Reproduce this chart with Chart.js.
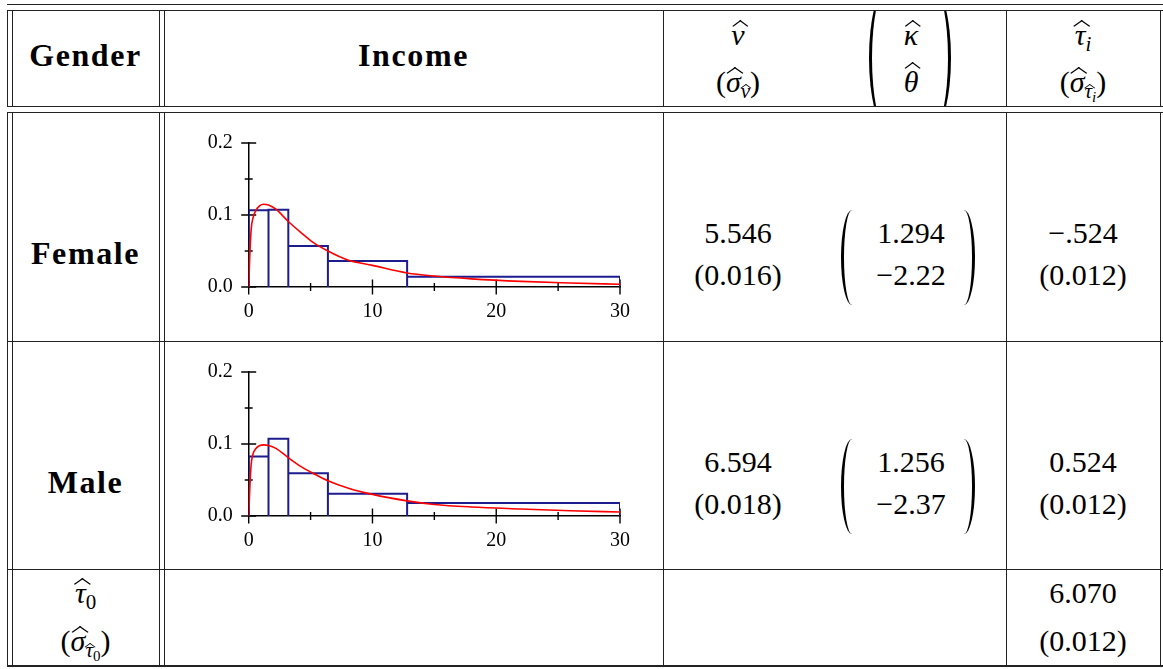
<!DOCTYPE html>
<html>
<head>
<meta charset="utf-8">
<title>Income by gender</title>
<script src="https://cdn.jsdelivr.net/npm/chart.js@4.4.1/dist/chart.umd.min.js"></script>
<style>
html, body { margin: 0; padding: 0; background: #fff; }
#page { position: relative; width: 1163px; height: 669px; overflow: hidden; background: #fff; color: #000; }
.hl { position: absolute; height: 1px; background: #222; }
.vl { position: absolute; width: 1px; background: #222; }
.t { position: absolute; font-size: 30px; line-height: 30px; white-space: nowrap; transform: translateX(-50%); }
.b { font-weight: bold; font-size: 32px; letter-spacing: 1.6px; }
.hw { position: relative; display: inline-block; }
.hc { position: absolute; box-sizing: border-box; border-top: 1.3px solid #000; border-left: 1.3px solid #000; }
sub { font-size: 21px; line-height: 21px; vertical-align: -6px; }
sub sub { font-size: 15px; line-height: 15px; vertical-align: -4px; }
.pl { position: absolute; box-sizing: border-box; border-left: 3px solid #000; }
.pr { position: absolute; box-sizing: border-box; border-right: 3px solid #000; }
.clip { position: absolute; overflow: hidden; }
canvas { position: absolute; }
</style>
</head>
<body>
<div id="page" style="font-family:'Liberation Serif', serif;">
  <canvas id="femaleChart" width="490" height="205" style="left:170px;top:125px;"></canvas>
  <canvas id="maleChart" width="490" height="205" style="left:170px;top:354px;"></canvas>
</div>
<script>
// ---- histogram bins (income, shared by both groups) ----
const binEdges = [0, 1.6, 3.2, 6.4, 12.8, 30];
const femaleDensity = [0.1065, 0.1074, 0.057, 0.036, 0.0144];
const maleDensity = [0.0825, 0.1074, 0.0594, 0.0309, 0.018];

// ---- fitted density curves ----
const femaleFitX = [0, 0.08, 0.2, 0.35, 0.6, 0.9, 1.2, 1.6, 2.2, 3.2, 4.2, 5.2, 6.4, 8, 10, 12.8, 15, 18, 22, 26, 30];
const femaleFitY = [0, 0.04, 0.08, 0.096, 0.107, 0.113, 0.115, 0.114, 0.108, 0.091, 0.076, 0.062, 0.05, 0.0375, 0.03, 0.0195, 0.0152, 0.0113, 0.0078, 0.0056, 0.0038];
const maleFitX = [0, 0.08, 0.2, 0.35, 0.6, 0.9, 1.2, 1.6, 2.2, 3.2, 4.2, 5.2, 6.4, 8, 10, 12.8, 15, 18, 22, 26, 30];
const maleFitY = [0, 0.035, 0.072, 0.086, 0.094, 0.098, 0.0988, 0.098, 0.094, 0.081, 0.069, 0.0594, 0.049, 0.039, 0.030, 0.021, 0.016, 0.0125, 0.0097, 0.0072, 0.0055];

// ---- axis ticks ----
const xTickMajor = [0, 10, 20, 30];
const xTickMinor = [5, 15, 25];
const yTickMajor = [0, 0.1, 0.2];
const yTickMinor = [0.05, 0.15];

// ---- table entries ----
const genders = ['Female', 'Male'];
const nuHat = ['5.546', '6.594'];
const nuSE = ['0.016', '0.018'];
const kappaHat = ['1.294', '1.256'];
const thetaHat = ['\u22122.22', '\u22122.37'];
const tauHat = ['\u2212.524', '0.524'];
const tauSE = ['0.012', '0.012'];
const tau0Hat = '6.070';
const tau0SE = '0.012';

const SERIF = "'Liberation Serif', serif";
const page = document.getElementById('page');

// ---------- table rules ----------
function hline(y, x1, x2, w) {
  const d = document.createElement('div');
  d.className = 'hl';
  d.style.cssText = `top:${y}px;left:${x1}px;width:${x2 - x1}px;` + (w ? `height:${w}px;` : '');
  page.appendChild(d);
}
function vline(x, y1, y2) {
  const d = document.createElement('div');
  d.className = 'vl';
  d.style.cssText = `left:${x}px;top:${y1}px;height:${y2 - y1}px;`;
  page.appendChild(d);
}
[4, 10, 106, 112, 341, 569].forEach(y => hline(y, 7, 1163));
hline(665, 7, 1163, 2);
[7, 12, 159, 164, 663, 1006, 1160].forEach(x => { vline(x, 10, 107); vline(x, 112, 666); });

// ---------- text ----------
// wide hat: a rotated corner squeezed to the given width w and height h
function hat(inner, w, h, top, shift) {
  const s = 8, diag = s * Math.SQRT2;
  const sx = w / diag, sy = h / (diag / 2);
  const bw = h > 4 ? 1.3 : 1.0;
  return `<span class="hw">${inner}<span class="hc" style="width:${s}px;height:${s}px;` +
    `border-top-width:${bw}px;border-left-width:${bw}px;` +
    `top:${top + h - s / 2}px;left:calc(50% - ${s / 2}px + ${shift || 0}px);` +
    `transform:scale(${sx.toFixed(3)},${sy.toFixed(3)}) rotate(45deg);"></span></span>`;
}
function setSerif(el) { el.style.setProperty('font-family', SERIF, 'important'); }
function place(html, cx, baseline, cls) {
  const d = document.createElement('div');
  d.className = 't' + (cls ? ' ' + cls : '');
  d.style.left = cx + 'px';
  d.style.top = (baseline - (cls === 'b' ? 27 : 25)) + 'px';
  d.innerHTML = html;
  setSerif(d);
  d.querySelectorAll('i, b, sub, span').forEach(setSerif);
  page.appendChild(d);
}

const colGender = 85.5, colIncome = 413.5, colNu = 738, colMat = 911, colTau = 1083;

// header
place('Gender', colGender, 67, 'b');
place('Income', colIncome, 67, 'b');
place(hat('<i>ν</i>', 16, 6, 0, 2), colNu, 45);
place('(' + hat('<i>σ</i>', 17, 6, 0, 2) + '<sub>' + hat('<i>ν</i>', 11, 4, 3, 1) + '</sub>)', colNu, 92);
place(hat('<i>κ</i>', 16, 6, 0, 2), colMat, 45);
place(hat('<i>θ</i>', 16, 6, -5, 2), colMat, 92);
place(hat('<i>τ</i>', 17, 6, 0, 2) + '<sub><i>i</i></sub>', colTau, 45);
place('(' + hat('<i>σ</i>', 17, 6, 0, 2) + '<sub>' + hat('<i>τ</i>', 11, 4, 3, 1) + '<sub><i>i</i></sub></sub>)', colTau, 92);

// group rows
genders.forEach((g, i) => {
  const off = i * 229;
  place(g, colGender, 265 + off, 'b');
  place(nuHat[i], colNu, 243 + off);
  place('(' + nuSE[i] + ')', colNu, 285 + off);
  place(kappaHat[i], colMat, 243 + off);
  place(thetaHat[i], colMat, 285 + off);
  place(tauHat[i], colTau, 243 + off);
  place('(' + tauSE[i] + ')', colTau, 285 + off);
});

// intercept row
place(hat('<i>τ</i>', 17, 6, 0, 2) + '<sub>0</sub>', colGender, 603);
place('(' + hat('<i>σ</i>', 17, 6, 0, 2) + '<sub>' + hat('<i>τ</i>', 11, 4, 3, 1) + '<sub>0</sub></sub>)', colGender, 651);
place(tau0Hat, colTau, 603);
place('(' + tau0SE + ')', colTau, 651);

// ---------- big parentheses (curved borders) ----------
function paren(x, y, w, h, right, parent) {
  const d = document.createElement('div');
  d.className = right ? 'pr' : 'pl';
  const radius = right ? '0 100% 100% 0 / 0 50% 50% 0' : '100% 0 0 100% / 50% 0 0 50%';
  d.style.cssText = `left:${x}px;top:${y}px;width:${w}px;height:${h}px;border-radius:${radius};`;
  (parent || page).appendChild(d);
}
// header matrix brackets, cut by the rules
const clip = document.createElement('div');
clip.className = 'clip';
clip.style.cssText = 'left:860px;top:11px;width:100px;height:95px;';
page.appendChild(clip);
paren(869 - 860, -14 - 11, 19, 144, false, clip);
paren(932 - 860, -14 - 11, 19, 144, true, clip);
// estimate matrices
[0, 229].forEach(off => {
  paren(841, 210 + off, 11, 95, false);
  paren(964, 210 + off, 11, 95, true);
});

// ---------- histograms ----------
function outline(edges, dens) {
  const pts = [];
  dens.forEach((d, i) => {
    pts.push({ x: edges[i], y: 0 }, { x: edges[i], y: d }, { x: edges[i + 1], y: d }, { x: edges[i + 1], y: 0 });
  });
  return pts;
}
function zipXY(xs, ys) { return xs.map((x, i) => ({ x: x, y: ys[i] })); }

const crossTicks = {
  id: 'crossTicks',
  beforeDatasetsDraw(chart) {
    const { ctx, scales: { x, y } } = chart;
    const x0 = x.getPixelForValue(0), y0 = y.getPixelForValue(0);
    ctx.save();
    ctx.strokeStyle = '#000';
    ctx.lineWidth = 1.4;
    ctx.beginPath();
    yTickMajor.forEach(v => { const p = y.getPixelForValue(v); ctx.moveTo(x0 - 7.5, p); ctx.lineTo(x0 + 7.5, p); });
    yTickMinor.forEach(v => { const p = y.getPixelForValue(v); ctx.moveTo(x0 - 4, p); ctx.lineTo(x0 + 4, p); });
    xTickMajor.forEach(v => { const p = x.getPixelForValue(v); ctx.moveTo(p, y0 - 7.5); ctx.lineTo(p, y0 + 7.5); });
    xTickMinor.forEach(v => { const p = x.getPixelForValue(v); ctx.moveTo(p, y0 - 4); ctx.lineTo(p, y0 + 4); });
    ctx.stroke();
    ctx.restore();
  }
};

const tickFont = { family: SERIF, size: 20 };

function makeHistogram(id, dens, fitX, fitY) {
  new Chart(document.getElementById(id), {
    type: 'line',
    data: {
      datasets: [
        { data: zipXY(fitX, fitY), borderColor: '#ff0000', borderWidth: 1.6, pointRadius: 0,
          cubicInterpolationMode: 'monotone', fill: false },
        { data: outline(binEdges, dens), borderColor: '#1c1c8e', borderWidth: 2, pointRadius: 0,
          tension: 0, fill: false }
      ]
    },
    options: {
      responsive: false,
      animation: false,
      events: [],
      layout: { padding: { top: 18, right: 40, left: 0, bottom: 0 } },
      plugins: { legend: { display: false }, tooltip: { enabled: false } },
      scales: {
        x: {
          type: 'linear', min: 0, max: 30,
          afterBuildTicks: s => { s.ticks = xTickMajor.map(v => ({ value: v })); },
          afterFit: s => { s.height = 43; s.paddingLeft = 0; s.paddingRight = 0; },
          grid: { display: false, drawTicks: false },
          border: { display: true, color: '#000', width: 1.5 },
          ticks: { font: tickFont, color: '#000', padding: 13, maxRotation: 0, autoSkip: false,
                   callback: v => String(v) }
        },
        y: {
          type: 'linear', min: 0, max: 0.2,
          afterBuildTicks: s => { s.ticks = yTickMajor.map(v => ({ value: v })); },
          afterFit: s => { s.width = 78.7; s.paddingTop = 0; s.paddingBottom = 0; },
          grid: { display: false, drawTicks: false },
          border: { display: true, color: '#000', width: 1.5 },
          ticks: { font: tickFont, color: '#000', padding: 16, autoSkip: false,
                   callback: v => Number(v).toFixed(1) }
        }
      }
    },
    plugins: [crossTicks]
  });
}

makeHistogram('femaleChart', femaleDensity, femaleFitX, femaleFitY);
makeHistogram('maleChart', maleDensity, maleFitX, maleFitY);
</script>
</body>
</html>
